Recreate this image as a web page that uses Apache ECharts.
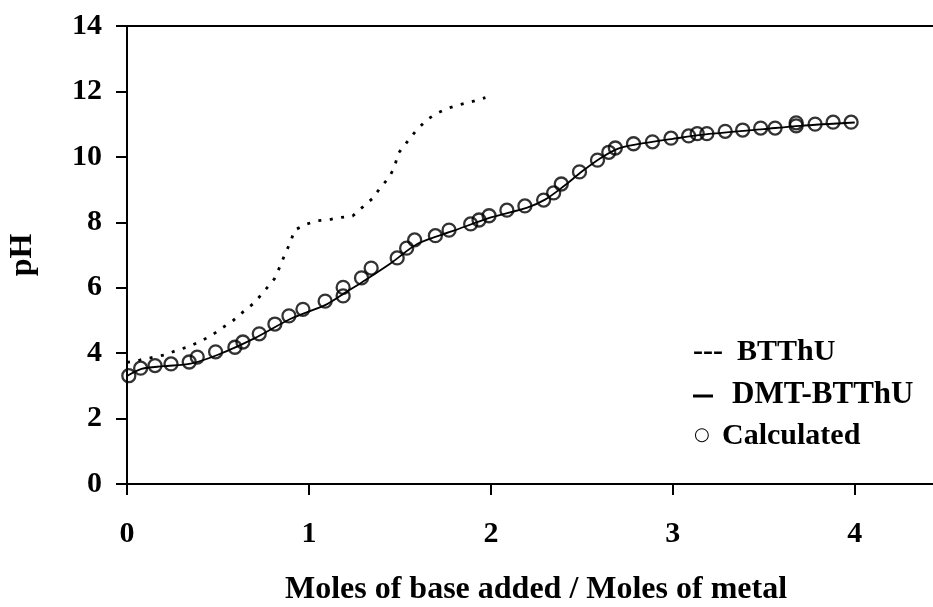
<!DOCTYPE html>
<html>
<head>
<meta charset="utf-8">
<script src="https://cdn.jsdelivr.net/npm/echarts@6/dist/echarts.min.js"></script>
<style>
  html, body { margin: 0; padding: 0; background: #fff; }
  #chart { width: 933px; height: 607px; }
</style>
</head>
<body>
<div id="chart"></div>
<script>
// BTThU titration curve (dotted)
const btthuX = [0, 0.07, 0.15, 0.21, 0.27, 0.34, 0.40, 0.47, 0.52, 0.58, 0.64, 0.70, 0.76, 0.81, 0.84, 0.87, 0.90, 0.92, 0.99, 1.05, 1.12, 1.18, 1.24, 1.29, 1.35, 1.39, 1.44, 1.47, 1.49, 1.54, 1.59, 1.65, 1.70, 1.76, 1.84, 1.91, 1.97];
const btthuY = [3.72, 3.79, 3.88, 3.95, 4.08, 4.20, 4.35, 4.56, 4.76, 4.98, 5.27, 5.54, 5.93, 6.27, 6.64, 7.05, 7.41, 7.76, 7.95, 8.05, 8.09, 8.15, 8.19, 8.44, 8.73, 9.04, 9.37, 9.68, 10.10, 10.46, 10.81, 11.14, 11.32, 11.48, 11.61, 11.71, 11.81];

// DMT-BTThU titration curve (solid)
const dmtX = [0, 0.08, 0.2, 0.35, 0.5, 0.7, 0.9, 1.1, 1.2, 1.3, 1.45, 1.6, 1.8, 2.0, 2.2, 2.3, 2.4, 2.5, 2.6, 2.7, 2.8, 3.0, 3.2, 3.5, 3.7, 4.0];
const dmtY = [3.3, 3.52, 3.6, 3.68, 3.95, 4.45, 5.05, 5.5, 5.85, 6.2, 6.75, 7.35, 7.75, 8.15, 8.45, 8.7, 9.1, 9.55, 9.95, 10.25, 10.38, 10.55, 10.7, 10.85, 10.95, 11.05];

// calculated points (open circles)
const calcX = [0.01, 0.075, 0.154, 0.242, 0.342, 0.386, 0.487, 0.593, 0.637, 0.727, 0.813, 0.89, 0.967, 1.089, 1.188, 1.188, 1.289, 1.342, 1.485, 1.537, 1.581, 1.695, 1.77, 1.889, 1.935, 1.99, 2.088, 2.187, 2.29, 2.345, 2.387, 2.487, 2.586, 2.648, 2.684, 2.784, 2.888, 2.99, 3.087, 3.134, 3.187, 3.288, 3.384, 3.483, 3.562, 3.678, 3.678, 3.782, 3.881, 3.98];
const calcY = [3.31, 3.54, 3.62, 3.67, 3.73, 3.88, 4.04, 4.18, 4.34, 4.59, 4.89, 5.14, 5.34, 5.59, 5.75, 6.01, 6.30, 6.60, 6.91, 7.21, 7.46, 7.59, 7.76, 7.95, 8.07, 8.20, 8.37, 8.50, 8.68, 8.90, 9.17, 9.54, 9.90, 10.14, 10.27, 10.40, 10.46, 10.57, 10.64, 10.71, 10.71, 10.78, 10.82, 10.88, 10.88, 11.04, 10.95, 11.00, 11.06, 11.06];

const xTicks = [0, 1, 2, 3, 4];
const yTicks = [0, 2, 4, 6, 8, 10, 12, 14];

const zip = (xs, ys) => xs.map((x, i) => [x, ys[i]]);
const font = "'Liberation Serif', 'Times New Roman', serif";

const myChart = echarts.init(document.getElementById("chart"));
myChart.setOption({
  animation: false,
  grid: { left: 127, top: 26, right: 0, bottom: 123, containLabel: false, outerBoundsMode: "none" },
  xAxis: [
    {
      type: "value",
      min: 0,
      max: 4.43,
      name: "Moles of base added / Moles of metal",
      nameLocation: "middle",
      nameGap: 90,
      nameTextStyle: { fontFamily: font, fontWeight: "bold", fontSize: 32, color: "#000", padding: [0, 0, 0, 12] },
      axisLine: { lineStyle: { color: "#000", width: 2 } },
      axisTick: { show: true, customValues: xTicks, length: 11, lineStyle: { color: "#000", width: 2 } },
      axisLabel: { customValues: xTicks, margin: 35, fontFamily: font, fontWeight: "bold", fontSize: 30, color: "#000" },
      splitLine: { show: false }
    },
    {
      type: "value",
      position: "top",
      min: 0,
      max: 4.43,
      axisLine: { show: true, lineStyle: { color: "#000", width: 2 } },
      axisTick: { show: false },
      axisLabel: { show: false },
      splitLine: { show: false }
    }
  ],
  yAxis: {
    type: "value",
    min: 0,
    max: 14,
    interval: 2,
    name: "pH",
    nameLocation: "middle",
    nameGap: 88,
    nameTextStyle: { fontFamily: font, fontWeight: "bold", fontSize: 32, color: "#000" },
    axisLine: { show: true, lineStyle: { color: "#000", width: 2 } },
    axisTick: { show: true, length: 11, lineStyle: { color: "#000", width: 2 } },
    axisLabel: { customValues: yTicks, margin: 25, fontFamily: font, fontWeight: "bold", fontSize: 30, color: "#000" },
    splitLine: { show: false }
  },
  series: [
    {
      name: "BTThU",
      type: "line",
      data: zip(btthuX, btthuY),
      showSymbol: false,
      symbol: "none",
      lineStyle: { color: "#000", width: 2.8, type: [3, 8.5] }
    },
    {
      name: "DMT-BTThU",
      type: "line",
      data: zip(dmtX, dmtY),
      smooth: 0.3,
      symbol: "none",
      lineStyle: { color: "#000", width: 1.8 }
    },
    {
      name: "Calculated",
      type: "scatter",
      data: zip(calcX, calcY),
      symbol: "circle",
      symbolSize: 13,
      itemStyle: { color: "rgba(0,0,0,0)", borderColor: "#000", borderWidth: 2.3 }
    }
  ],
  graphic: [
    { type: "text", left: 693, top: 337, style: { text: "---", font: "bold 30px " + font, fill: "#000" } },
    { type: "text", left: 737, top: 337, style: { text: "BTThU", font: "bold 30px " + font, fill: "#000" } },
    { type: "line", shape: { x1: 693, y1: 396, x2: 713, y2: 396 }, style: { stroke: "#000", lineWidth: 3 } },
    { type: "text", left: 732, top: 379, style: { text: "DMT-BTThU", font: "bold 31px " + font, fill: "#000" } },
    { type: "text", left: 694, top: 426, style: { text: "○", font: "18px 'DejaVu Sans'", fill: "#000" } },
    { type: "text", left: 722, top: 421, style: { text: "Calculated", font: "bold 30px " + font, fill: "#000" } }
  ]
});
</script>
</body>
</html>
